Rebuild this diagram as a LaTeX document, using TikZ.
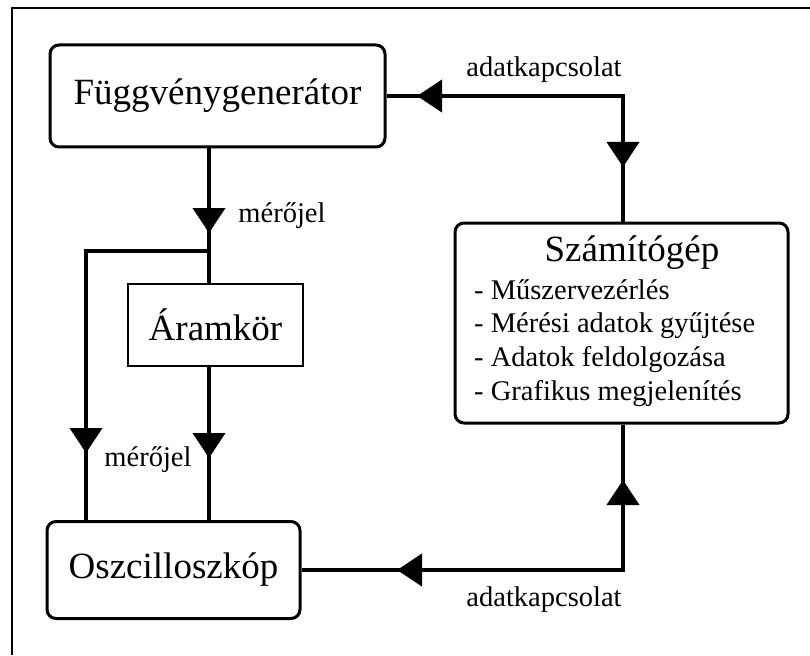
\documentclass[tikz,border=0pt]{standalone}
\usepackage{fontspec}
\setmainfont{Liberation Serif}
\usepackage{tikz}
\usetikzlibrary{arrows.meta}

\tikzset{
  unit/.style={draw, rounded corners=9pt, line width=3pt, inner sep=0pt},
  link/.style={line width=4pt},
  headed/.style={-{Triangle[length=25pt,width=32pt]}},
  title/.style={font=\fontsize{37}{40}\selectfont},
  note/.style={font=\fontsize{28.5}{33.7}\selectfont, inner sep=0pt}
}

\begin{document}
\begin{tikzpicture}[x=1pt,y=-1pt]
                \useasboundingbox (0,0) rectangle (810,655);
                \draw[line width=2pt] (810,8) -- (12,8) -- (12,655);
                \node[unit, minimum width=335pt, minimum height=102pt, title](fgen) at (217.5,96){Függvénygenerátor};
                \node[unit, minimum width=333pt, minimum height=200pt](szg) at (621.5,323){};
                \node[title](szgcim) at (632,253){Számítógép};
                \node[note, align=left, anchor=west](feladat) at (474,343){- Műszervezérlés\\- Mérési adatok gyűjtése\\- Adatok feldolgozása\\- Grafikus megjelenítés};
                \node[draw, line width=2pt, minimum width=175pt, minimum height=82pt, title](aram) at (215.5,325){Áramkör};
                \node[unit, minimum width=253pt, minimum height=97pt, title](oszc) at (173.5,570){Oszcilloszkóp};
                \coordinate (k1) at (623,96);
                \coordinate (k2) at (623,570);
                \coordinate (j) at (209,251);
                \coordinate (b1) at (86,251);
                \coordinate (t1) at (417,96);
                \coordinate (t2) at (623,167);
                \coordinate (t3) at (623,480);
                \coordinate (t4) at (397,570);
                \coordinate (t5) at (209,233);
                \coordinate (t6) at (86,453);
                \coordinate (t7) at (209,458);
                \draw[link] (szg.north -| k1) |- (fgen.east);
                \draw[link, headed] (k1) -- (t1);
                \draw[link, headed] (k1) -- (t2);
                \draw[link] (szg.south -| k2) |- (oszc.east);
                \draw[link, headed] (k2) -- (t3);
                \draw[link, headed] (k2) -- (t4);
                \draw[link] (fgen.south -| j) -- (aram.north -| j);
                \draw[link] (j) -| (b1 |- oszc.north);
                \draw[link] (aram.south -| j) -- (oszc.north -| j);
                \draw[link, headed] (fgen.south -| j) -- (t5);
                \draw[link, headed] (b1) -- (t6);
                \draw[link, headed] (aram.south -| j) -- (t7);
                \node[note](mj1) at (282,216){mérőjel};
                \node[note](mj2) at (148,460){mérőjel};
                \node[note](ak1) at (544,70){adatkapcsolat};
                \node[note](ak2) at (544,600){adatkapcsolat};
\end{tikzpicture}
\end{document}
